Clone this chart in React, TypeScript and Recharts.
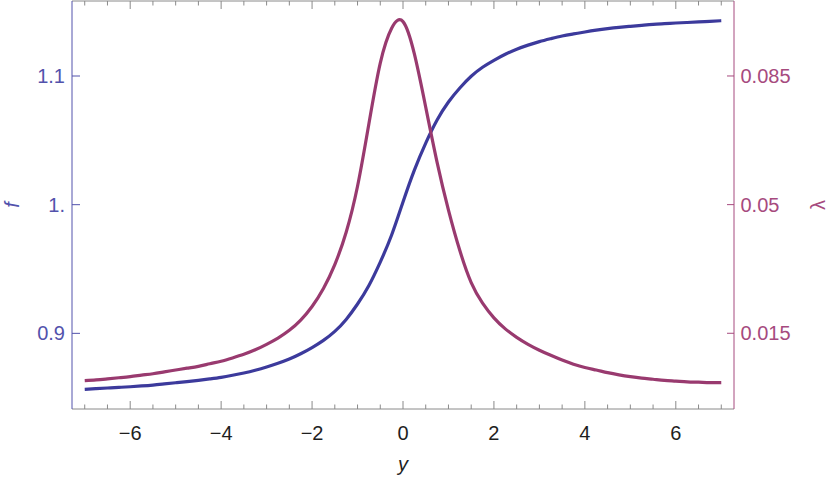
import React from 'react';
import { LineChart, Line, XAxis, YAxis } from 'recharts';

// ---- data ----
const yGrid = [
  -7, -6.75, -6.5, -6.25, -6, -5.75, -5.5, -5.25, -5, -4.75, -4.5, -4.25, -4, -3.75, -3.5, -3.25, -3, -2.75, -2.5, -2.25,
  -2, -1.75, -1.5, -1.25, -1, -0.75, -0.5, -0.25, 0, 0.25, 0.5, 0.75, 1, 1.25, 1.5, 1.75, 2, 2.25, 2.5, 2.75,
  3, 3.25, 3.5, 3.75, 4, 4.25, 4.5, 4.75, 5, 5.25, 5.5, 5.75, 6, 6.25, 6.5, 6.75, 7,
];
const fValues = [
  0.8565, 0.857, 0.8575, 0.858, 0.8585, 0.8591, 0.8598, 0.8607, 0.8616, 0.8625, 0.8635, 0.8646, 0.8658, 0.8674, 0.8692, 0.8713, 0.8738, 0.8767, 0.88, 0.8841,
  0.8889, 0.8945, 0.9015, 0.9108, 0.9228, 0.9372, 0.9554, 0.9764, 1.0021, 1.0269, 1.0479, 1.0658, 1.0798, 1.0907, 1.0998, 1.1068, 1.1122, 1.1169, 1.1208, 1.124,
  1.1267, 1.129, 1.1311, 1.1327, 1.1342, 1.1356, 1.1368, 1.1378, 1.1386, 1.1394, 1.1402, 1.1407, 1.1412, 1.1416, 1.142, 1.1425, 1.143,
];
const lambdaValues = [
  0.0021, 0.0023, 0.0026, 0.0029, 0.0032, 0.0036, 0.004, 0.0045, 0.005, 0.0055, 0.006, 0.0067, 0.0074, 0.0083, 0.0093, 0.0105, 0.012, 0.0137, 0.0158, 0.0186,
  0.0223, 0.0272, 0.0337, 0.0425, 0.055, 0.072, 0.0885, 0.098, 0.0998, 0.091, 0.0765, 0.0615, 0.0485, 0.0375, 0.0288, 0.0232, 0.0192, 0.0162, 0.0139, 0.012,
  0.0104, 0.009, 0.0077, 0.0066, 0.0057, 0.005, 0.0043, 0.0037, 0.0032, 0.0028, 0.0025, 0.0022, 0.002, 0.0018, 0.0017, 0.0016, 0.0016,
];

const xTicks = [-7, -6.5, -6, -5.5, -5, -4.5, -4, -3.5, -3, -2.5, -2, -1.5, -1, -0.5, 0, 0.5, 1, 1.5, 2, 2.5, 3, 3.5, 4, 4.5, 5, 5.5, 6, 6.5, 7];
const xLabelTicks = [-6, -4, -2, 0, 2, 4, 6];
const xTickLabels = ['\u22126', '\u22124', '\u22122', '0', '2', '4', '6'];
const fTicks = [0.9, 1.0, 1.1];
const fTickLabels = ['0.9', '1.', '1.1'];
const lambdaTicks = [0.015, 0.05, 0.085];
const lambdaTickLabels = ['0.015', '0.05', '0.085'];

const xDomain = [-7.28, 7.28];
const fDomain = [0.8412, 1.1583];
const lambdaDomain = [-0.0056, 0.1054];

const data = yGrid.map((y, i) => ({ y, f: fValues[i], lam: lambdaValues[i] }));

// ---- styles ----
const FONT = '"Liberation Sans", Arial, Helvetica, sans-serif';
const BLUE = '#3c3a9c';
const BLUE_AXIS = '#5252ac';
const MAGENTA = '#993a6f';
const MAGENTA_AXIS = '#a64a7e';
const FRAME = '#8a8a8a';
const TEXT = '#1e1e1e';

const findIdx = (arr: number[], v: number) => arr.findIndex((t) => Math.abs(t - v) < 1e-9);

const BottomTick = (props: any) => {
  const { x, y, payload } = props;
  const li = findIdx(xLabelTicks, payload.value);
  const len = li >= 0 ? 8 : 4.5;
  return (
    <g>
      <line x1={x} x2={x} y1={y} y2={y - len} stroke={FRAME} strokeWidth={1} />
      {li >= 0 && (
        <text x={x} y={y + 31} textAnchor="middle" fill={TEXT} fontSize={20} fontFamily={FONT}>
          {xTickLabels[li]}
        </text>
      )}
    </g>
  );
};

const TopTick = (props: any) => {
  const { x, y, payload } = props;
  const li = findIdx(xLabelTicks, payload.value);
  const len = li >= 0 ? 8 : 4.5;
  return <line x1={x} x2={x} y1={y} y2={y + len} stroke={FRAME} strokeWidth={1} />;
};

const LeftTick = (props: any) => {
  const { x, y, payload } = props;
  const i = findIdx(fTicks, payload.value);
  return (
    <g>
      <line x1={x} x2={x + 8} y1={y} y2={y} stroke={BLUE_AXIS} strokeWidth={1} />
      <text x={x - 7} y={y} dy="0.355em" textAnchor="end" fill={BLUE_AXIS} fontSize={20} fontFamily={FONT}>
        {fTickLabels[i]}
      </text>
    </g>
  );
};

const RightTick = (props: any) => {
  const { x, y, payload } = props;
  const i = findIdx(lambdaTicks, payload.value);
  return (
    <g>
      <line x1={x} x2={x - 7} y1={y} y2={y} stroke={MAGENTA_AXIS} strokeWidth={1} />
      <text x={x + 6.5} y={y} dy="0.355em" textAnchor="start" fill={MAGENTA_AXIS} fontSize={20} fontFamily={FONT}>
        {lambdaTickLabels[i]}
      </text>
    </g>
  );
};

const YLabel = () => (
  <text x={403} y={471} textAnchor="middle" fill={TEXT} fontSize={20} fontStyle="italic" fontFamily={FONT}>
    y
  </text>
);
const FLabel = () => (
  <text x={19} y={205} textAnchor="middle" fill={BLUE_AXIS} fontSize={20} fontStyle="italic" fontFamily={FONT} transform="rotate(-90, 19, 205)">
    f
  </text>
);
const LambdaLabel = () => (
  <text x={825} y={205} textAnchor="middle" fill={MAGENTA_AXIS} fontSize={20} fontFamily={FONT} transform="rotate(-90, 825, 205)">
    λ
  </text>
);

export default function App() {
  return (
    <div style={{ position: 'absolute', left: 0, top: 0, width: 830, height: 478, background: '#fff' }}>
      <LineChart width={830} height={478} data={data} margin={{ top: 0, right: 95, bottom: 68, left: 71 }}>
        <XAxis
          xAxisId="b"
          dataKey="y"
          type="number"
          domain={xDomain}
          allowDataOverflow
          ticks={xTicks}
          interval={0}
          height={1}
          tickSize={0}
          tickMargin={0}
          tickLine={false}
          axisLine={{ stroke: FRAME, strokeWidth: 1 }}
          tick={<BottomTick />}
          label={{ content: () => <YLabel /> }}
        />
        <XAxis
          xAxisId="t"
          orientation="top"
          dataKey="y"
          type="number"
          domain={xDomain}
          allowDataOverflow
          ticks={xTicks}
          interval={0}
          height={1}
          tickSize={0}
          tickMargin={0}
          tickLine={false}
          axisLine={{ stroke: FRAME, strokeWidth: 1 }}
          tick={<TopTick />}
        />
        <YAxis
          yAxisId="left"
          type="number"
          domain={fDomain}
          allowDataOverflow
          ticks={fTicks}
          interval={0}
          width={1}
          tickSize={0}
          tickMargin={0}
          tickLine={false}
          axisLine={{ stroke: BLUE_AXIS, strokeWidth: 1 }}
          tick={<LeftTick />}
          label={{ content: () => <FLabel /> }}
        />
        <YAxis
          yAxisId="right"
          orientation="right"
          type="number"
          domain={lambdaDomain}
          allowDataOverflow
          ticks={lambdaTicks}
          interval={0}
          width={1}
          tickSize={0}
          tickMargin={0}
          tickLine={false}
          axisLine={{ stroke: MAGENTA_AXIS, strokeWidth: 1 }}
          tick={<RightTick />}
          label={{ content: () => <LambdaLabel /> }}
        />
        <Line xAxisId="b" yAxisId="left" type="natural" dataKey="f" stroke={BLUE} strokeWidth={3.2} dot={false} isAnimationActive={false} />
        <Line xAxisId="b" yAxisId="right" type="natural" dataKey="lam" stroke={MAGENTA} strokeWidth={3.2} dot={false} isAnimationActive={false} />
      </LineChart>
    </div>
  );
}
